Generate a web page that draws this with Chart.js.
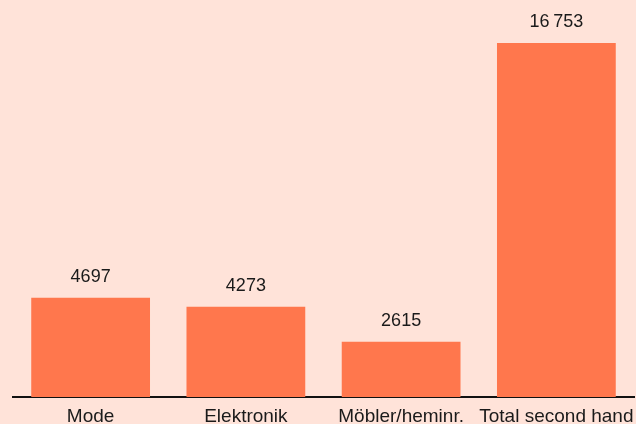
<!DOCTYPE html>
<html>
<head>
<meta charset="utf-8">
<script src="https://cdn.jsdelivr.net/npm/chart.js@4"></script>
<style>
  html, body { margin: 0; padding: 0; background: #ffe3d9; }
  canvas { display: block; }
</style>
</head>
<body>
<canvas id="bar-chart" width="636" height="424"></canvas>
<script>
var categories = ['Mode', 'Elektronik', 'Möbler/heminr.', 'Total second hand'];
var values = [4697, 4273, 2615, 16753];
var valueLabels = ['4697', '4273', '2615', '16\u202F753'];

var fontFamily = '"Liberation Sans", Arial, sans-serif';

// skriver värdet ovanför varje stapel
var valueLabelPlugin = {
    id: 'valueLabels',
    afterDatasetsDraw: function(chart) {
        var ctx = chart.ctx;
        var meta = chart.getDatasetMeta(0);
        ctx.save();
        ctx.font = '18px ' + fontFamily;
        ctx.fillStyle = '#1a1a1a';
        ctx.textAlign = 'center';
        ctx.textBaseline = 'alphabetic';
        meta.data.forEach(function(bar, i) {
            ctx.fillText(valueLabels[i], bar.x, bar.y - 16);
        });
        ctx.restore();
    }
};

var ctx = document.getElementById('bar-chart').getContext('2d');
var bar_chart = new Chart(ctx, {
    type: 'bar',
    data: {
        labels: categories,
        datasets: [
            {
                data: values,
                backgroundColor: '#ff774d',
                borderWidth: 0,
                categoryPercentage: 1,
                barPercentage: 0.765
            }
        ]
    },
    options: {
        responsive: false,
        animation: false,
        layout: {
            padding: { top: 43, left: 13, right: 2, bottom: 0 }
        },
        plugins: {
            legend: { display: false },
            tooltip: { enabled: false }
        },
        scales: {
            x: {
                grid: { display: false },
                border: { display: true, color: '#111111', width: 2 },
                afterFit: function(scale) {
                    scale.height = 27;
                    scale.paddingLeft = 0;
                    scale.paddingRight = 0;
                },
                ticks: {
                    color: '#1a1a1a',
                    padding: 2,
                    maxRotation: 0,
                    autoSkip: false,
                    font: { family: fontFamily, size: 19, lineHeight: 1 }
                }
            },
            y: {
                display: false,
                min: 0,
                max: 16753
            }
        }
    },
    plugins: [valueLabelPlugin]
});
</script>
</body>
</html>
